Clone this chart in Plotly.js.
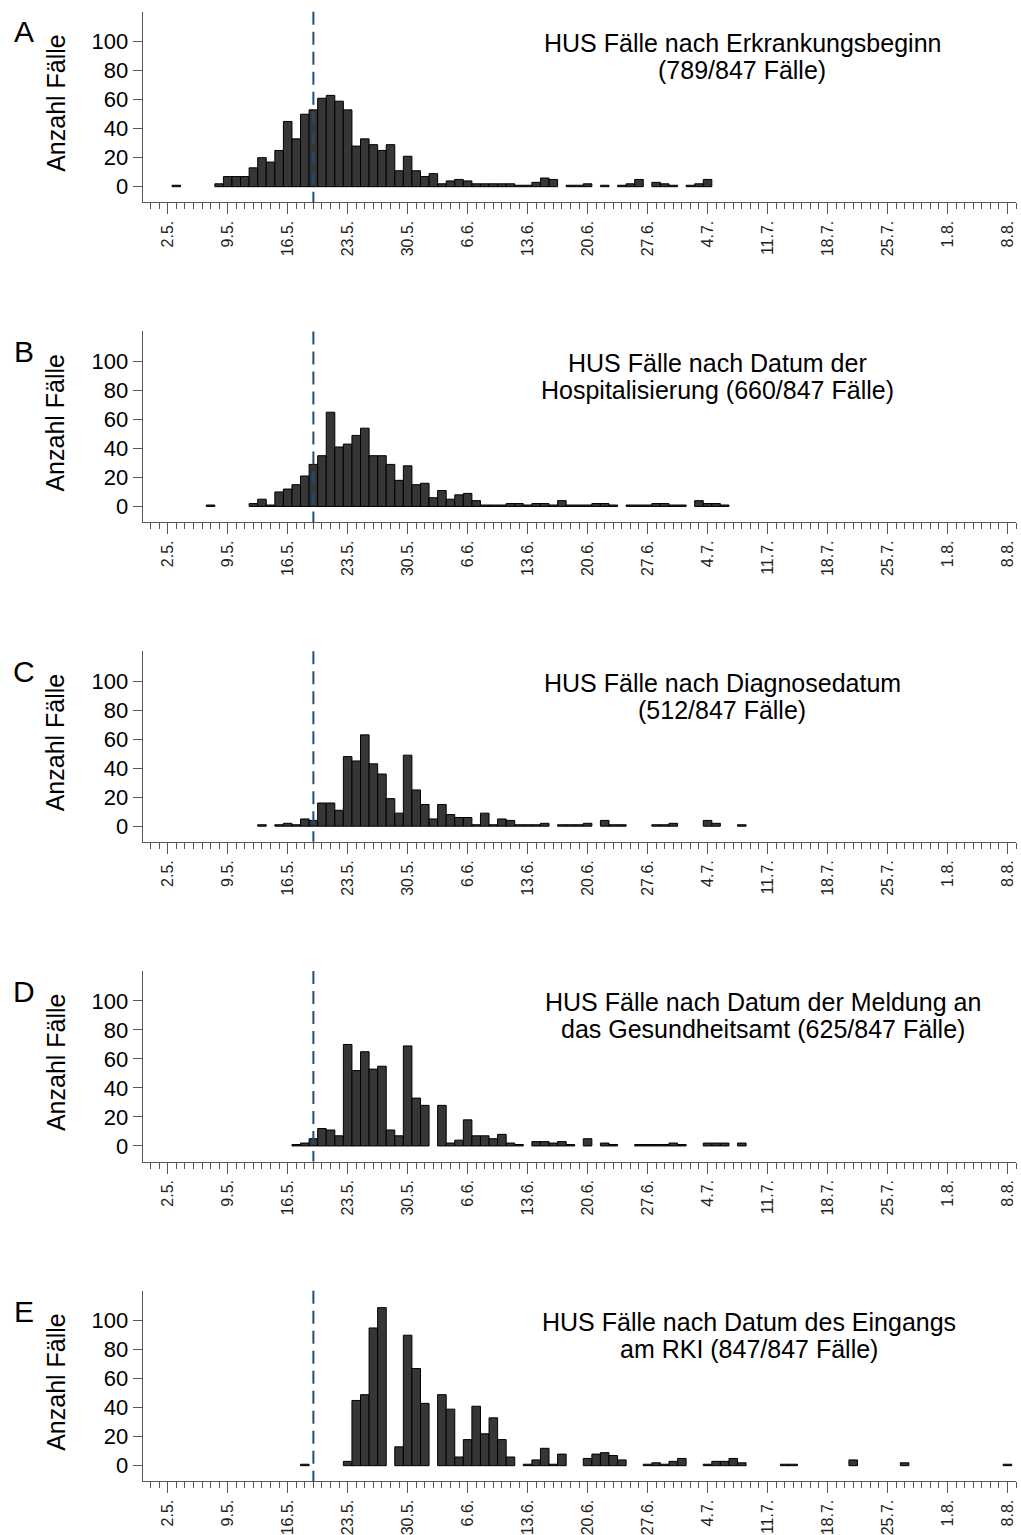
<!DOCTYPE html>
<html>
<head>
<meta charset="utf-8">
<script src="https://cdn.plot.ly/plotly-3.0.1.min.js"></script>
<style>html,body{margin:0;padding:0;background:#fff;}</style>
</head>
<body>
<div id="chart" style="width:1021px;height:1535px;"></div>
<script>
// ---------------- data ----------------
const firstDay = [2011, 4, 2];          // 2 May 2011 (month is 0-based)
const tickDates = ['2011-05-02','2011-05-09','2011-05-16','2011-05-23','2011-05-30','2011-06-06','2011-06-13',
                   '2011-06-20','2011-06-27','2011-07-04','2011-07-11','2011-07-18','2011-07-25','2011-08-01','2011-08-08'];
const tickLabels = ['2.5.','9.5.','16.5.','23.5.','30.5.','6.6.','13.6.','20.6.','27.6.','4.7.','11.7.','18.7.','25.7.','1.8.','8.8.'];
const markerDate = '2011-05-19';
const yTickVals = [0, 20, 40, 60, 80, 100];
const yTitleText = 'Anzahl Fälle';
const panelLetters = ['A', 'B', 'C', 'D', 'E'];
const titleLine1 = ['HUS Fälle nach Erkrankungsbeginn', 'HUS Fälle nach Datum der', 'HUS Fälle nach Diagnosedatum',
                    'HUS Fälle nach Datum der Meldung an', 'HUS Fälle nach Datum des Eingangs'];
const titleLine2 = ['(789/847 Fälle)', 'Hospitalisierung (660/847 Fälle)', '(512/847 Fälle)',
                    'das Gesundheitsamt (625/847 Fälle)', 'am RKI (847/847 Fälle)'];

// daily case counts, one value per day starting at firstDay
const countsA = [0,1,0,0,0,0,2,7,7,7, 13,20,17,25,45,33,50,53,61,63, 59,53,28,33,29,25,29,11,21,11,
                 7,9,2,4,5,4,2,2,2,2, 2,1,1,3,6,5,0,1,1,2, 0,1,0,1,2,5,0,3,2,1, 0,1,2,5];
const countsB = [0,0,0,0,0,1,0,0,0,0, 2,5,1,10,12,15,21,29,35,65, 41,43,49,54,35,35,29,18,28,15,
                 16,6,11,5,8,9,4,1,1,1, 2,2,1,2,2,1,4,1,1,1, 2,2,1,0,1,1,1,2,2,1, 1,0,4,2,2,1];
const countsC = [0,0,0,0,0,0,0,0,0,0, 0,1,0,1,2,1,5,4,16,16, 11,48,45,63,43,36,19,9,49,25,
                 15,5,15,8,6,6,1,9,1,5, 4,1,1,1,2,0,1,1,1,2, 0,4,1,1,0,0,0,1,1,2, 0,0,0,4,2,0,0,1];
const countsD = [0,0,0,0,0,0,0,0,0,0, 0,0,0,0,0,1,2,5,12,11, 7,70,52,65,53,55,11,7,69,33,
                 28,0,28,2,4,18,7,7,5,8, 2,1,0,3,3,2,3,1,0,5, 0,2,1,0,0,1,1,1,1,2, 1,0,0,2,2,2,0,2];
const countsE = [0,0,0,0,0,0,0,0,0,0, 0,0,0,0,0,0,1,0,0,0, 0,3,45,49,95,109,0,13,90,67,
                 43,0,49,39,6,18,41,22,33,18, 6,0,1,4,12,1,8,0,0,5, 8,9,7,4,0,0,1,2,1,3,
                 5,0,0,1,3,3,5,2,0,0, 0,0,1,1,0,0,0,0,0,0, 4,0,0,0,0,0,2,0,0,0, 0,0,0,0,0,0,0,0,1];
const panelCounts = [countsA, countsB, countsC, countsD, countsE];

// ---------------- layout constants ----------------
const W = 1021, H = 1535;
const FONT = 'Liberation Sans, Arial, Helvetica, sans-serif';
const panelStep = 319.75;
const plotTop = 11.7, plotBottom = 202.3, plotLeft = 142.7, plotRight = 1016;
const titleCenterX = [742, 717, 722, 763, 749];
const py = p => 1 - p / H;

function dayString(i) {
  return new Date(Date.UTC(firstDay[0], firstDay[1], firstDay[2] + i)).toISOString().slice(0, 10);
}

const data = [];
const layout = {
  width: W, height: H,
  margin: {l: 0, r: 0, t: 0, b: 0},
  paper_bgcolor: '#ffffff', plot_bgcolor: '#ffffff',
  showlegend: false,
  bargap: 0,
  font: {family: FONT, color: '#000'},
  shapes: [], annotations: []
};

panelCounts.forEach((counts, i) => {
  const sfx = i === 0 ? '' : String(i + 1);
  const off = panelStep * i;
  const xs = counts.map((_, k) => dayString(k));
  // days without cases are left empty (no bar drawn)
  const ys = counts.map(v => (v === 0 ? null : v));
  data.push({
    type: 'bar', x: xs, y: ys, xaxis: 'x' + sfx, yaxis: 'y' + sfx,
    width: 86400000,
    marker: {color: '#363636', line: {color: '#000000', width: 1}},
    hoverinfo: 'skip'
  });
  layout['xaxis' + sfx] = {
    type: 'date', anchor: 'y' + sfx,
    domain: [plotLeft / W, plotRight / W],
    range: ['2011-04-29 01:55', '2011-08-09 00:00'],
    tickmode: 'array', tickvals: tickDates, ticktext: tickLabels,
    tickangle: -90, ticks: 'outside', ticklen: 11, tickwidth: 1, tickcolor: '#555',
    tickfont: {family: FONT, size: 16, color: '#222'},
    minor: {tickmode: 'linear', tick0: '2011-05-02', dtick: 86400000, ticks: 'outside',
            ticklen: 6, tickwidth: 1, tickcolor: '#555', showgrid: false},
    showline: true, linecolor: '#555', linewidth: 1,
    showgrid: false, zeroline: false, fixedrange: true
  };
  layout['yaxis' + sfx] = {
    anchor: 'x' + sfx,
    domain: [py(plotBottom + off), py(plotTop + off)],
    range: [-10.76, 120.7],
    tickmode: 'array', tickvals: yTickVals,
    ticks: 'outside', ticklen: 9, tickwidth: 1, tickcolor: '#555',
    tickfont: {family: FONT, size: 22, color: '#000'},
    showline: true, linecolor: '#555', linewidth: 1,
    showgrid: false, zeroline: false, fixedrange: true
  };
  layout.shapes.push({
    type: 'line', xref: 'x' + sfx, yref: 'y' + sfx + ' domain',
    x0: markerDate, x1: markerDate, y0: 1, y1: 0,
    line: {color: '#1f4e79', width: 2, dash: '13px,7px'}
  });
  layout.annotations.push(
    {text: panelLetters[i], xref: 'paper', yref: 'paper', x: 24 / W, y: py(32 + off),
     xanchor: 'center', yanchor: 'middle', showarrow: false, font: {family: FONT, size: 30, color: '#000'}},
    {text: yTitleText, textangle: -90, xref: 'paper', yref: 'paper', x: 55.3 / W, y: py(102.5 + off),
     xanchor: 'center', yanchor: 'middle', showarrow: false, font: {family: FONT, size: 25, color: '#000'}},
    {text: titleLine1[i], xref: 'paper', yref: 'paper', x: titleCenterX[i] / W, y: py(43 + off),
     xanchor: 'center', yanchor: 'middle', showarrow: false, font: {family: FONT, size: 25, color: '#000'}},
    {text: titleLine2[i], xref: 'paper', yref: 'paper', x: titleCenterX[i] / W, y: py(70 + off),
     xanchor: 'center', yanchor: 'middle', showarrow: false, font: {family: FONT, size: 25, color: '#000'}}
  );
});

Plotly.newPlot('chart', data, layout, {staticPlot: true, displayModeBar: false});
</script>
</body>
</html>
